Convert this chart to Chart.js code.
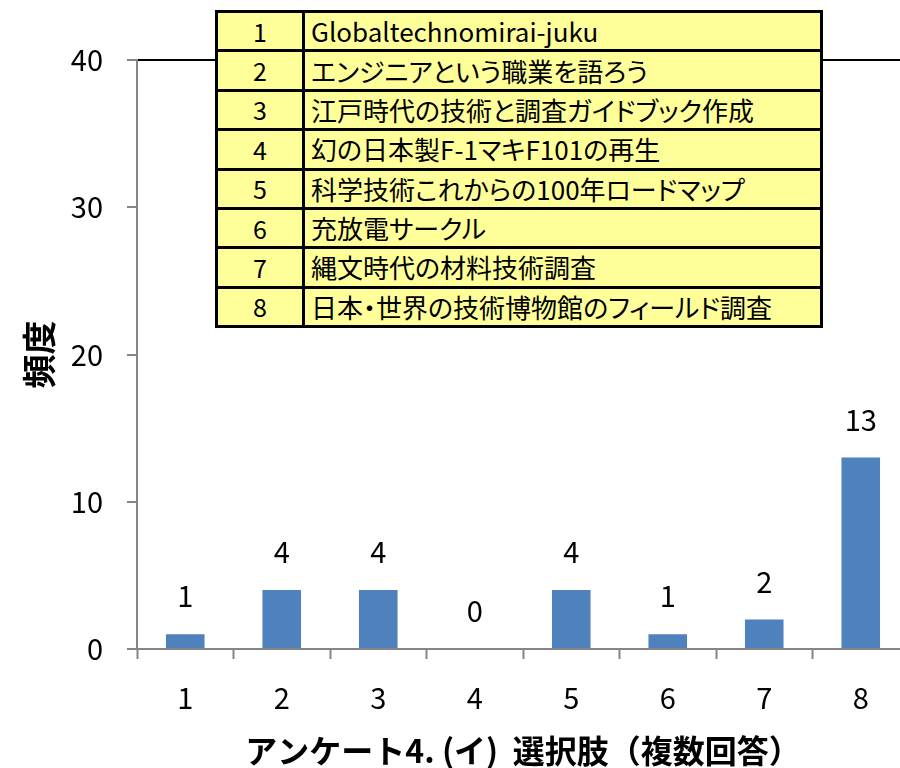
<!DOCTYPE html>
<html>
<head>
<meta charset="utf-8">
<script src="https://cdn.jsdelivr.net/npm/chart.js@4.4.1/dist/chart.umd.min.js"></script>
<style>
html, body { margin: 0; padding: 0; background: #fff; overflow: hidden; }
#wrap { position: relative; width: 900px; height: 768px; overflow: hidden; }
#chart { position: absolute; left: 0; top: 0; }
#optTable {
  position: absolute; left: 215px; top: 10px; width: 608px; height: 318px;
  box-sizing: border-box; padding: 3px; background: #000;
  display: grid; grid-template-columns: 84px 1fr; grid-auto-rows: 1fr; gap: 3px;
  font-family: "Noto Sans CJK JP"; color: #000;
}
#optTable div { background: #FFFF99; display: flex; align-items: center; line-height: 1; }
#optTable .num { justify-content: center; font-size: 25px; }
#optTable .txt { padding-left: 6px; font-size: 26px; font-feature-settings: "palt"; }
</style>
</head>
<body>
<div id="wrap">
  <canvas id="chart" width="910" height="768"></canvas>
  <div id="optTable"></div>
</div>
<script>
var categories = ['1', '2', '3', '4', '5', '6', '7', '8'];
var counts = [1, 4, 4, 0, 4, 1, 2, 13];
var optionNames = [
  'Globaltechnomirai-juku',
  'エンジニアという職業を語ろう',
  '江戸時代の技術と調査ガイドブック作成',
  '幻の日本製F-1マキF101の再生',
  '科学技術これからの100年ロードマップ',
  '充放電サークル',
  '縄文時代の材料技術調査',
  '日本・世界の技術博物館のフィールド調査'
];
var xTitle = 'アンケート4. (イ)  選択肢（複数回答）';
var yTitle = '頻度';

var jp = '"Noto Sans CJK JP", sans-serif';
var axis_clr = '#868686';
var bar_clr = '#4F81BD';

// option list overlay
var tbl = document.getElementById('optTable');
categories.forEach(function(c, i) {
  var n = document.createElement('div');
  n.className = 'num';
  n.textContent = c;
  var t = document.createElement('div');
  t.className = 'txt';
  t.textContent = optionNames[i];
  tbl.appendChild(n);
  tbl.appendChild(t);
});

// value labels above the bars
var valueLabels = {
  id: 'valueLabels',
  afterDatasetsDraw: function(chart) {
    var ctx = chart.ctx;
    var meta = chart.getDatasetMeta(0);
    ctx.save();
    ctx.font = '29px ' + jp;
    ctx.fillStyle = '#000';
    ctx.textAlign = 'center';
    ctx.textBaseline = 'middle';
    meta.data.forEach(function(bar, i) {
      ctx.fillText(String(counts[i]), bar.x, bar.y - 38);
    });
    ctx.restore();
  }
};

new Chart(document.getElementById('chart'), {
  type: 'bar',
  data: {
    labels: categories,
    datasets: [{
      data: counts,
      backgroundColor: bar_clr,
      borderWidth: 0,
      barPercentage: 0.4,
      categoryPercentage: 1.0
    }]
  },
  options: {
    responsive: false,
    animation: false,
    devicePixelRatio: 1,
    layout: { padding: { top: 60, right: 1, bottom: 0, left: 0 } },
    plugins: {
      legend: { display: false },
      tooltip: { enabled: false }
    },
    scales: {
      x: {
        afterFit: function(scale) { scale.height = 119; },
        grid: {
          offset: true,
          drawOnChartArea: false,
          tickLength: 10,
          tickColor: axis_clr,
          tickWidth: 2
        },
        border: { color: axis_clr, width: 2 },
        ticks: {
          color: '#000',
          padding: 22,
          font: { family: jp, size: 29 }
        },
        title: {
          display: true,
          text: xTitle,
          color: '#000',
          padding: { top: 0, bottom: 0 },
          font: { family: jp, size: 32, weight: 'bold', lineHeight: 1.1 }
        }
      },
      y: {
        min: 0,
        max: 40,
        afterFit: function(scale) { scale.width = 137; },
        grid: {
          drawOnChartArea: true,
          tickLength: 10,
          tickWidth: 2,
          tickColor: axis_clr,
          lineWidth: 2,
          color: function(c) { return c.tick && c.tick.value === 40 ? '#000' : 'rgba(0,0,0,0)'; }
        },
        border: { color: axis_clr, width: 2 },
        ticks: {
          stepSize: 10,
          color: '#000',
          padding: 24,
          font: { family: jp, size: 29 }
        },
        title: {
          display: true,
          text: yTitle,
          color: '#000',
          padding: { top: 19, bottom: 0 },
          font: { family: jp, size: 34, weight: 'bold' }
        }
      }
    }
  },
  plugins: [valueLabels]
});
</script>
</body>
</html>
